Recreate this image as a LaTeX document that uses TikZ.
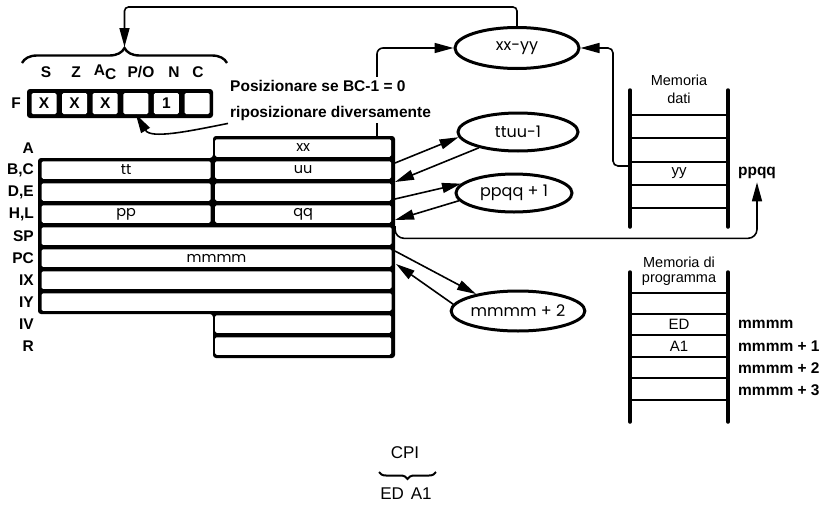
\documentclass[tikz,border=0pt]{standalone}
\usepackage{fontspec}
\setmainfont{Liberation Sans}
\newfontfamily\geofont{Poppins}
\usetikzlibrary{positioning,arrows.meta,calc,shapes.geometric,decorations.pathreplacing}
\tikzset{
    every node/.style={font=\fontsize{15}{17}\selectfont},
    reglabel/.style={anchor=east,inner sep=0pt,font=\fontsize{15.5}{17}\selectfont\bfseries},
    regcell/.style={fill=white,rounded corners=1.5pt,minimum height=17.5pt,inner sep=0pt,font=\geofont\fontsize{14.5}{16}\selectfont},
    flagcell/.style={fill=white,rounded corners=1.5pt,minimum width=25pt,minimum height=21pt,inner sep=0pt,font=\fontsize{15.5}{17}\selectfont\bfseries},
    flaglabel/.style={inner sep=0pt,font=\fontsize{15.5}{17}\selectfont\bfseries},
    alu/.style={ellipse,draw,line width=3pt,inner sep=0pt,font=\geofont\fontsize{16}{18}\selectfont},
    link/.style={line width=1.6pt,-{Triangle[length=19pt,width=10pt]}},
    rail/.style={line width=3.5pt,line cap=round},
    slot/.style={line width=2.5pt},
    memtitle/.style={align=center,inner sep=0pt},
    addr/.style={anchor=west,inner sep=0pt,font=\fontsize{15.5}{17}\selectfont\bfseries},
    brace/.style={decorate,decoration={brace,amplitude=#1}}
}

\begin{document}
\begin{tikzpicture}[x=1pt,y=-1pt]
    \useasboundingbox (0,0) rectangle (833,506);

    % flag register
    \fill[rounded corners=3pt] (27,89) rectangle (213,118);
    \foreach \i/\t in {1/X,2/X,3/X,4/,5/1,6/}
        \node[flagcell] (f\i) at ({44+30.6*(\i-1)},103.5) {\t};
    \node[flaglabel,anchor=east] (F) at (21,103.5) {F};
    \node[flaglabel] (fS) at (46,72) {S};
    \node[flaglabel] (fZ) at (76,72) {Z};
    \node[flaglabel] (fA) at (105,72) {A\raisebox{-4pt}{C}};
    \node[flaglabel] (fP) at (141,72) {P/O};
    \node[flaglabel] (fN) at (174,72) {N};
    \node[flaglabel] (fC) at (198,72) {C};
    \draw[brace=15pt,line width=2.4pt] (22,63) -- (227,63);
    \coordinate (ftip) at (124.5,47);

    % register file
    \fill[rounded corners=3pt] (213,136) -- (395,136) -- (395,358) -- (213,358)
        -- (213,314) -- (38,314) -- (38,158) -- (213,158) -- cycle;
    \foreach \n [count=\k from 0] in {A,{B,C},{D,E},{H,L},SP,PC,IX,IY,IV,R}
        \node[reglabel] (l\k) at (34,148+22*\k) {\n};
    \node[regcell,minimum width=176pt] (rA) at (303.2,148) {xx};
    \node[regcell,minimum width=169pt] (rB) at (126.2,170) {tt};
    \node[regcell,minimum width=176pt] (rC) at (303.2,170) {uu};
    \node[regcell,minimum width=169pt] (rD) at (126.2,192) {};
    \node[regcell,minimum width=176pt] (rE) at (303.2,192) {};
    \node[regcell,minimum width=169pt] (rH) at (126.2,214) {pp};
    \node[regcell,minimum width=176pt] (rL) at (303.2,214) {qq};
    \node[regcell,minimum width=350pt] (rSP) at (216.5,236) {};
    \node[regcell,minimum width=350pt] (rPC) at (216.5,258) {mmmm};
    \node[regcell,minimum width=350pt] (rIX) at (216.5,280) {};
    \node[regcell,minimum width=350pt] (rIY) at (216.5,302) {};
    \node[regcell,minimum width=176pt] (rIV) at (303.2,324) {};
    \node[regcell,minimum width=176pt] (rR) at (303.2,346) {};

    % operations
    \node[alu,minimum width=124pt,minimum height=41pt] (xxyy) at (517,48) {xx-yy};
    \node[alu,minimum width=120pt,minimum height=38pt] (ttuu) at (518,132) {ttuu-1};
    \node[alu,minimum width=116pt,minimum height=38pt] (ppqq) at (514,193) {ppqq + 1};
    \node[alu,minimum width=122pt,minimum height=40pt] (mmmm) at (518,311) {mmmm + 2};

    \draw[link,rounded corners=4pt] (xxyy.north) -- ++(0,-19) -| (ftip);
    \coordinate (atop) at (377,136);
    \draw[link,rounded corners=6pt] (atop) |- (xxyy.west);

    \node[fill=white,align=left,anchor=west,inner xsep=2pt,inner ysep=3pt,
        font=\fontsize{15.5}{26}\selectfont\bfseries] (note) at (228,100)
        {Posizionare se BC-1 = 0\\riposizionare diversamente};
    \draw[link] (note.south west) .. controls +(-40,8) and +(15,25) .. (f4.south);

    \coordinate (o1) at (395,163);
    \coordinate (i1) at (395,182);
    \coordinate (o2) at (395,199);
    \coordinate (i2) at (395,220);
    \coordinate (o3) at (395,251);
    \coordinate (i3) at (396,264);
    \draw[link] (o1) -- (ttuu.185);
    \draw[link] (ttuu.202) -- (i1);
    \draw[link] (o2) -- (ppqq.170);
    \draw[link] (ppqq.188) -- (i2);
    \draw[link] (o3) -- (mmmm.158);
    \draw[link] (mmmm.174) -- (i3);

    % data memory
    \draw[rail] (630,90) -- (630,227);
    \draw[rail] (728,90) -- (728,227);
    \foreach \y in {115,138,162,185,208}
        \draw[slot] (630,\y) -- (728,\y);
    \node[memtitle,font=\fontsize{14.5}{18}\selectfont] (mdati) at (679,89) {Memoria\\dati};
    \node (yy) at (679,173.5) {yy};
    \node[font=\fontsize{15.5}{17}\selectfont\bfseries] (dppqq) at (757,173) {ppqq};
    \coordinate (yyl) at (630,166);
    \draw[link,rounded corners=5pt] (yyl) -- ++(-17,0) |- (xxyy.east);
    \coordinate (sp) at (395,226);
    \draw[link,rounded corners=9pt] (sp) |- ($(dppqq.south)+(0,56)$) -- (dppqq.south);

    % program memory
    \draw[rail] (630,272) -- (630,422);
    \draw[rail] (728,272) -- (728,422);
    \foreach \y in {293,314,335,357,378,400}
        \draw[slot] (630,\y) -- (728,\y);
    \node[memtitle,font=\fontsize{14.5}{15.5}\selectfont] (mprog) at (679,271) {Memoria di\\programma};
    \node (pED) at (679,324) {ED};
    \node (pA1) at (679,346) {A1};
    \node[addr] (a0) at (738,324) {mmmm};
    \node[addr] (a1) at (738,346) {mmmm + 1};
    \node[addr] (a2) at (738,368) {mmmm + 2};
    \node[addr] (a3) at (738,390) {mmmm + 3};

    % opcode
    \node[font=\fontsize{17}{19}\selectfont] (cpi) at (405,453) {CPI};
    \draw[brace=7pt,line width=2pt] (436,472) -- (379,472);
    \node[font=\fontsize{17}{19}\selectfont] (opc) at (406,494) {ED\hspace{0.4em}A1};
\end{tikzpicture}
\end{document}
